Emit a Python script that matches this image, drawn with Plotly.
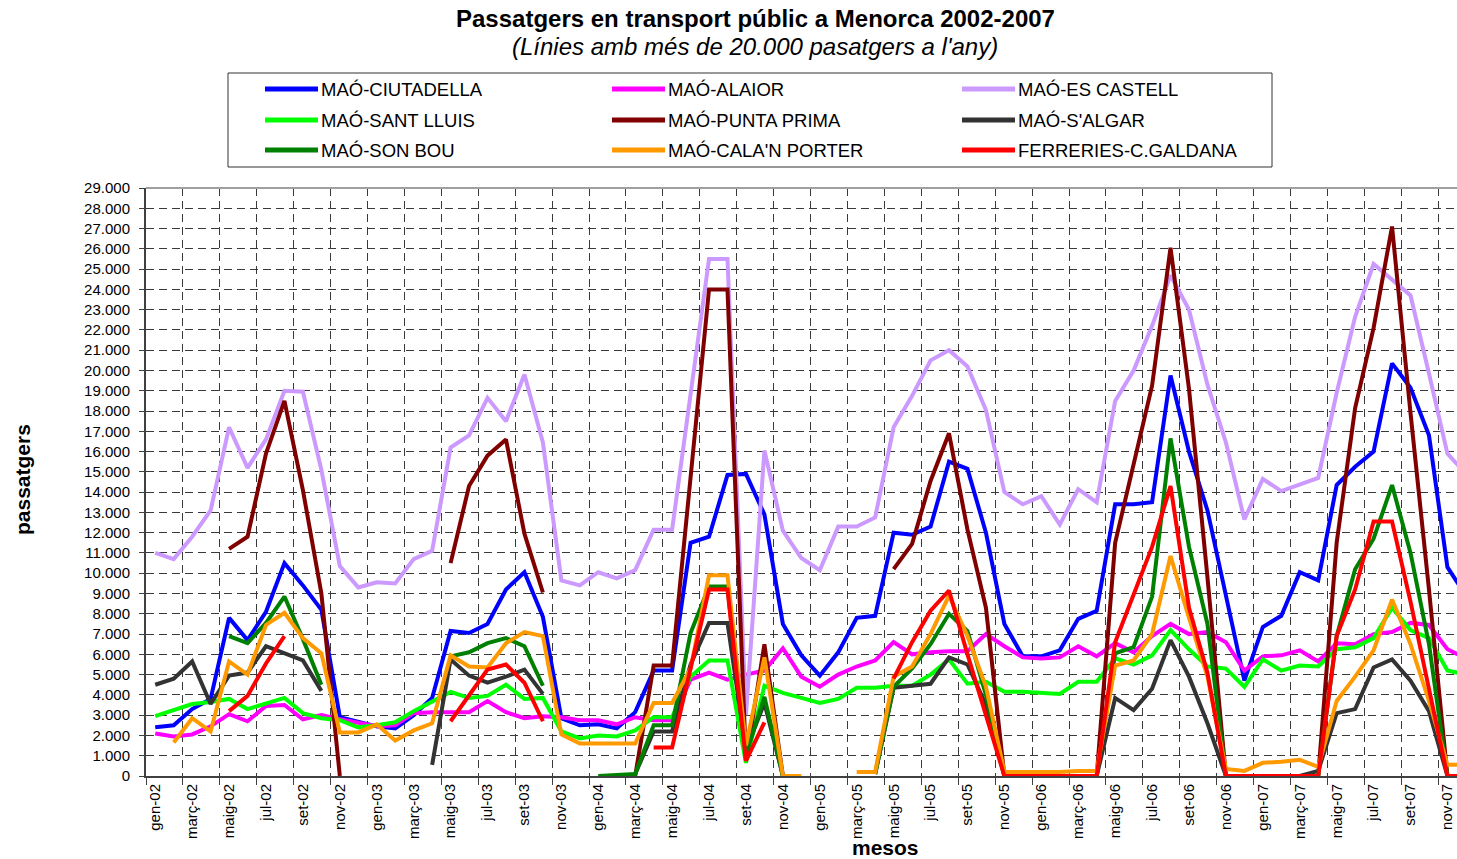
import plotly.graph_objects as go

# ---------------- data ----------------
month_names = ["gen", "febr", "març", "abr", "maig", "juny", "jul", "ag", "set", "oct", "nov", "des"]
years = ["02", "03", "04", "05", "06", "07"]
months = [f"{m}-{y}" for y in years for m in month_names]
N = None

ciutadella = [2400, 2500, 3300, 3800, 7800, 6700, 8100, 10500, 9400, 8200, 2900, 2650,
              2450, 2350, 3000, 3850, 7150, 7050, 7500, 9200, 10050, 7850, 2850, 2500,
              2550, 2350, 3150, 5200, 5200, 11500, 11800, 14850, 14900, 12900, 7500, 5950,
              4950, 6100, 7800, 7900, 12000, 11900, 12300, 15500, 15150, 12000, 7500, 5900,
              5900, 6200, 7750, 8150, 13400, 13400, 13500, 19750, 16000, 13100, 8800, 4700,
              7350, 7900, 10050, 9650, 14350, 15250, 16000, 20350, 19150, 16800, 10300, 8900]

alaior = [2100, 1950, 2050, 2450, 3050, 2700, 3450, 3500, 2800, 3000, 2800, 2600,
          2450, 2500, 3100, 3150, 3150, 3150, 3700, 3150, 2850, 2950, 2900, 2750,
          2750, 2550, 2900, 2750, 2750, 4750, 5100, 4750, 5000, 5200, 6300, 4900,
          4400, 5000, 5400, 5700, 6600, 6000, 6100, 6150, 6150, 7000, 6400, 5850,
          5800, 5850, 6400, 5900, 6550, 6100, 6900, 7500, 7000, 7100, 6600, 5200,
          5900, 5950, 6200, 5650, 6550, 6500, 7000, 7100, 7550, 7450, 6250, 5800]

es_castell = [11000, 10700, 11800, 13100, 17200, 15200, 16600, 19000, 18950, 15100, 10350, 9300,
              9550, 9500, 10700, 11100, 16200, 16800, 18650, 17500, 19800, 16450, 9650, 9400,
              10050, 9750, 10150, 12150, 12150, 18800, 25500, 25500, 3000, 16050, 12100, 10750,
              10150, 12300, 12300, 12750, 17200, 18750, 20500, 21000, 20200, 18050, 14000, 13400,
              13800, 12400, 14150, 13500, 18500, 20000, 22200, 24700, 23000, 19300, 16450, 12650,
              14650, 14050, 14350, 14700, 18900, 22650, 25250, 24450, 23700, 19850, 15900, 14900]

sant_lluis = [2950, 3250, 3550, 3650, 3800, 3300, 3600, 3850, 3100, 2850, 2750, 2400,
              2500, 2650, 3200, 3700, 4150, 3850, 3950, 4500, 3800, 3850, 2200, 1850,
              2000, 1950, 2250, 2900, 2900, 4900, 5700, 5700, 650, 4450, 4100, 3850,
              3600, 3800, 4350, 4350, 4450, 4450, 5000, 5750, 4550, 4650, 4150, 4150,
              4100, 4050, 4650, 4650, 5800, 5500, 5950, 7200, 6250, 5400, 5300, 4400,
              5750, 5200, 5450, 5400, 6250, 6350, 6800, 8300, 7200, 6800, 5200, 5000]

punta_prima = [N, N, N, N, 11200, 11800, 15900, 18500, 14100, 9000, 0, N,
               N, N, N, N, 10500, 14300, 15800, 16600, 11950, 9050, N, N,
               N, N, 0, 5450, 5450, 14700, 24000, 24000, 750, 6500, 0, N,
               N, N, N, N, 10200, 11450, 14550, 16900, 12150, 8300, 0, 0,
               0, 0, 0, 0, 11500, 15400, 19250, 26050, 19100, 9800, 0, 0,
               0, 0, 0, 0, 11500, 18150, 22100, 27100, 17900, 9200, 0, 0]

s_algar = [4500, 4800, 5650, 3550, 4950, 5100, 6400, 6050, 5700, 4200, N, N,
           N, N, N, 550, 5750, 4950, 4600, 4900, 5250, 4050, N, N,
           N, N, 100, 2200, 2200, 5500, 7550, 7550, 1300, 3600, 0, N,
           N, N, N, 100, 4350, 4450, 4550, 5850, 5500, 3500, 0, 0,
           0, 0, 0, 0, 3850, 3250, 4300, 6700, 4900, 2600, 0, 0,
           0, 0, 0, 250, 3100, 3300, 5350, 5750, 4700, 3200, 0, 0]

son_bou = [N, N, N, N, 6900, 6550, 7550, 8850, 6750, 4500, N, N,
           N, N, N, N, 5900, 6100, 6550, 6800, 6400, 4450, N, N,
           0, 50, 100, 2500, 2500, 7050, 9350, 9350, 1050, 3900, 0, N,
           N, N, N, 100, 4400, 5300, 6500, 8000, 7150, 4000, 0, 0,
           0, 0, 0, 0, 6050, 6350, 8850, 16650, 11300, 7500, 0, 0,
           0, 0, 0, 0, 6900, 10200, 11700, 14350, 11000, 6500, 0, 0]

cala_n_porter = [N, 1650, 2850, 2200, 5650, 5000, 7450, 8050, 6800, 6050, 2150, 2150,
                 2550, 1750, 2250, 2600, 5950, 5400, 5350, 6550, 7100, 6900, 2050, 1600,
                 1600, 1600, 1600, 3600, 3600, 5300, 9900, 9900, 1500, 5850, 0, 0,
                 N, N, 200, 200, 4900, 5400, 7000, 8900, 6900, 4400, 200, 200,
                 200, 200, 250, 250, 5450, 5700, 7000, 10850, 7800, 4900, 350, 250,
                 650, 700, 800, 450, 3700, 4900, 6200, 8700, 6500, 3700, 550, 550]

ferreries = [N, N, N, N, 3200, 3950, 5550, 6900, N, N, N, N,
             N, N, N, N, 2700, 4000, 5250, 5500, 4600, 2700, N, N,
             N, N, N, 1400, 1400, 5300, 9200, 9200, 750, 2650, N, N,
             N, N, N, N, 4800, 6600, 8150, 9150, 6000, 3000, 0, 0,
             0, 0, 0, 0, 6600, 8900, 11300, 14300, 8300, 5100, 0, 0,
             0, 0, 0, 0, 6900, 9200, 12550, 12550, 8600, 4300, 0, 0]

series_names = ["MAÓ-CIUTADELLA", "MAÓ-ALAIOR", "MAÓ-ES CASTELL",
                "MAÓ-SANT LLUIS", "MAÓ-PUNTA PRIMA", "MAÓ-S'ALGAR",
                "MAÓ-SON BOU", "MAÓ-CALA'N PORTER", "FERRERIES-C.GALDANA"]
series_values = [ciutadella, alaior, es_castell, sant_lluis, punta_prima,
                 s_algar, son_bou, cala_n_porter, ferreries]
series_colors = ["#0000FF", "#FF00FF", "#CC99FF", "#00FF00", "#800000",
                 "#333333", "#008000", "#FF9900", "#FF0000"]

y_max = 29000
tick_step = 1000

# ---------------- figure ----------------
W, H = 1457, 859
L, R, T, B = 146, 0, 188, 83
PW, PH = W - L - R, H - T - B
PER_MONTH = 18.46

def px_x(px):
    return (px - L) / PW

def px_y(py):
    return (H - B - py) / PH

FONT = "Liberation Sans, Arial, sans-serif"
idx = list(range(len(months)))

fig = go.Figure()
for name, vals, col in zip(series_names, series_values, series_colors):
    fig.add_trace(go.Scatter(x=idx, y=vals, name=name, mode="lines",
                             line=dict(color=col, width=4),
                             connectgaps=False, showlegend=False,
                             hovertemplate="%{y}<extra>" + name + "</extra>"))

x_right = -0.5 + PW / PER_MONTH
label_idx = idx[::2]
grid_style = dict(gridcolor="#3a3a3a", gridwidth=1, griddash="8px,5px")

fig.update_layout(
    width=W, height=H,
    margin=dict(l=L, r=R, t=T, b=B, pad=0),
    paper_bgcolor="white", plot_bgcolor="white",
    separators=",.",
    font=dict(family=FONT, color="black"),
    xaxis=dict(range=[-0.5, x_right], tickmode="array",
               tickvals=label_idx, ticktext=[months[i] for i in label_idx],
               tickangle=-90, tickfont=dict(size=15), ticks="",
               showgrid=False, zeroline=False,
               showline=True, linecolor="#404040", linewidth=2,
               minor=dict(tick0=-0.5, dtick=2, ticks="outside", ticklen=7,
                          tickcolor="#404040", showgrid=True, **grid_style)),
    yaxis=dict(range=[0, y_max], tickmode="linear", tick0=0, dtick=tick_step,
               tickformat=",.0f", tickfont=dict(size=15),
               ticks="outside", ticklen=5, tickcolor="#404040",
               ticklabelstandoff=6,
               showgrid=True, **grid_style, zeroline=False,
               showline=True, linecolor="#404040", linewidth=2),
)

shapes = [dict(type="line", xref="paper", yref="paper", x0=0, x1=1, y0=1, y1=1,
               line=dict(color="#a0a0a0", width=2))]
annotations = [
    dict(text="<b>Passatgers en transport públic a Menorca 2002-2007</b>",
         x=px_x(755), y=px_y(18), xref="paper", yref="paper", showarrow=False,
         xanchor="center", yanchor="middle", font=dict(size=24)),
    dict(text="<i>(Línies amb més de 20.000 pasatgers a l'any)</i>",
         x=px_x(755), y=px_y(47), xref="paper", yref="paper", showarrow=False,
         xanchor="center", yanchor="middle", font=dict(size=24)),
    dict(text="<b>passatgers</b>", textangle=-90,
         x=px_x(22), y=px_y(480), xref="paper", yref="paper", showarrow=False,
         xanchor="center", yanchor="middle", font=dict(size=21)),
    dict(text="<b>mesos</b>",
         x=px_x(885), y=px_y(847), xref="paper", yref="paper", showarrow=False,
         xanchor="center", yanchor="middle", font=dict(size=21)),
]

# custom legend (3 columns x 3 rows)
shapes.append(dict(type="rect", xref="paper", yref="paper",
                   x0=px_x(228), x1=px_x(1272), y0=px_y(167), y1=px_y(73),
                   line=dict(color="#333333", width=1), fillcolor="white"))
col_line_x = [265, 612, 962]
row_y = [89, 120, 150]
for k, (name, col) in enumerate(zip(series_names, series_colors)):
    r, c = divmod(k, 3)
    lx, ly = col_line_x[c], row_y[r]
    shapes.append(dict(type="line", xref="paper", yref="paper",
                       x0=px_x(lx), x1=px_x(lx + 53), y0=px_y(ly), y1=px_y(ly),
                       line=dict(color=col, width=5)))
    annotations.append(dict(text=name, x=px_x(lx + 54), y=px_y(ly),
                            xref="paper", yref="paper", showarrow=False,
                            xanchor="left", yanchor="middle", font=dict(size=18.5)))

fig.update_layout(shapes=shapes, annotations=annotations)

fig.write_html("out.html", config={"displayModeBar": False},
               post_script="document.body.style.margin='0';document.body.style.overflow='hidden';")
